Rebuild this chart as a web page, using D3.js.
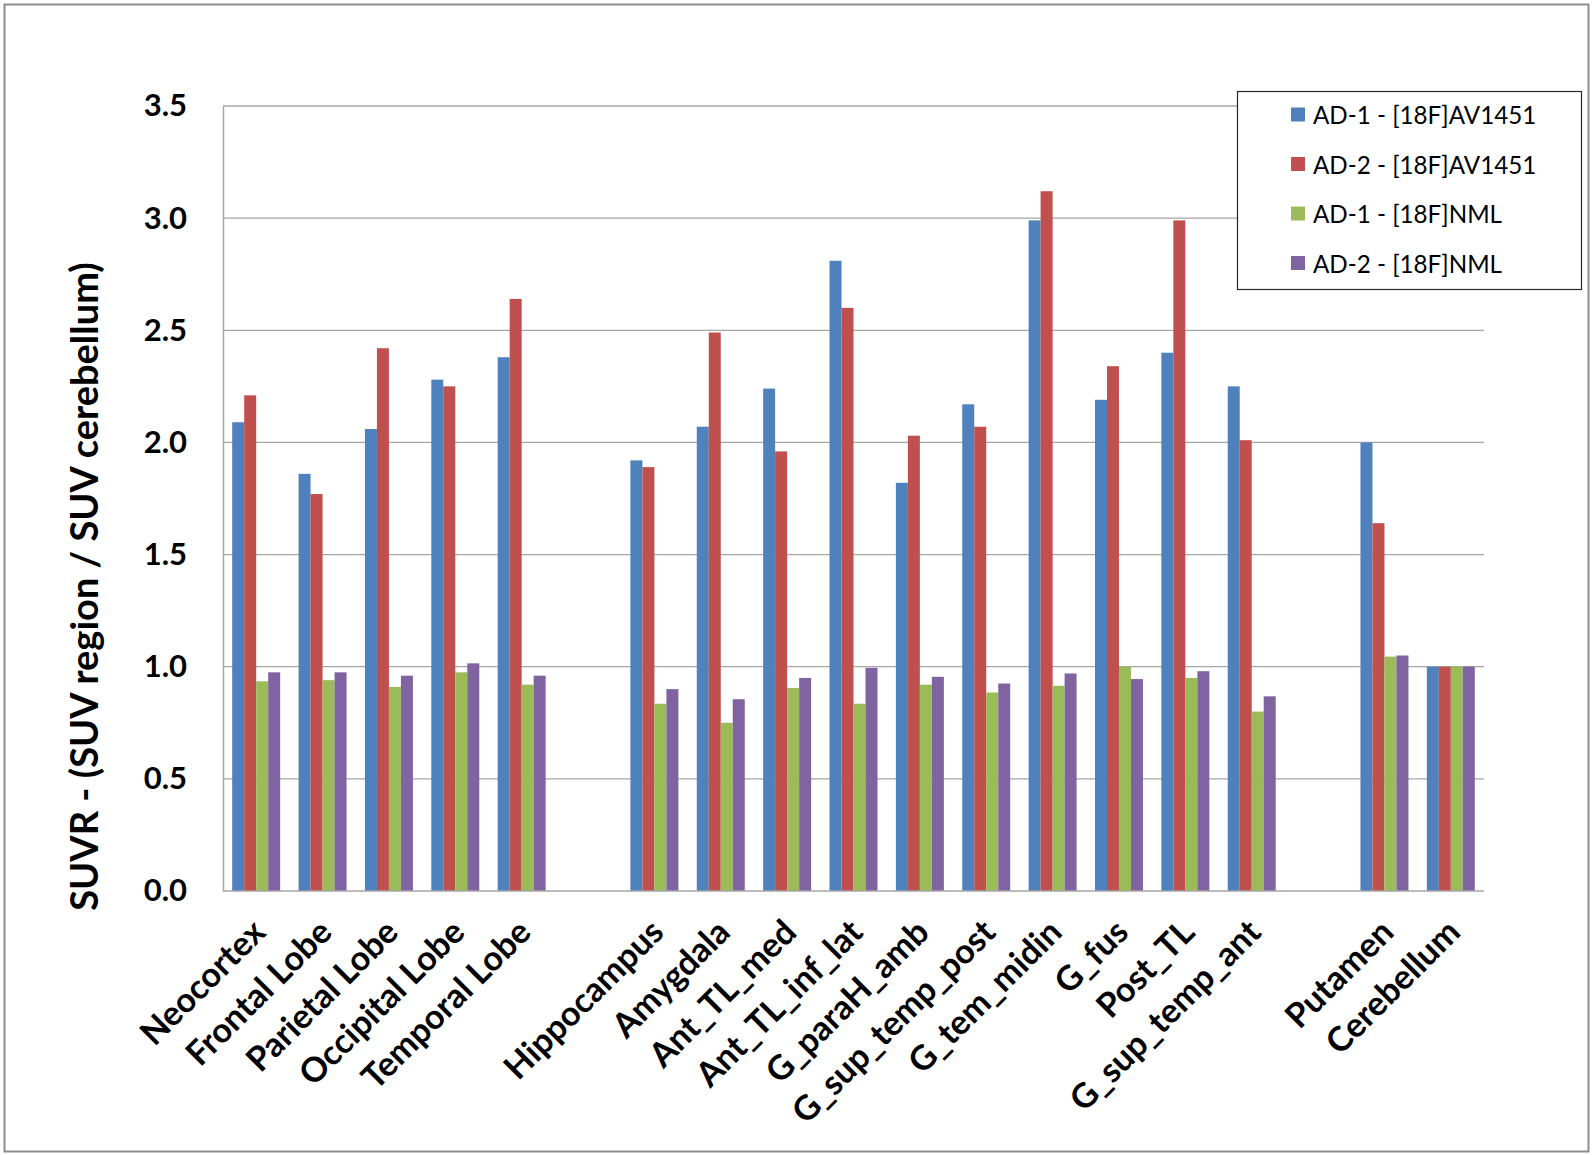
<!DOCTYPE html>
<html>
<head>
<meta charset="utf-8">
<script src="https://cdn.jsdelivr.net/npm/d3@7"></script>
<style>
  html, body { margin: 0; padding: 0; background: #fff; }
  svg { display: block; }
</style>
</head>
<body>
<svg id="chart" width="1592" height="1155"></svg>
<script>
// ---- data ----
const categories = ["Neocortex", "Frontal Lobe", "Parietal Lobe", "Occipital Lobe", "Temporal Lobe", "",
  "Hippocampus", "Amygdala", "Ant_TL_med", "Ant_TL_inf_lat", "G_paraH_amb", "G_sup_temp_post",
  "G_tem_midin", "G_fus", "Post_TL", "G_sup_temp_ant", "", "Putamen", "Cerebellum"];
const seriesNames = ["AD-1 - [18F]AV1451", "AD-2 - [18F]AV1451", "AD-1 - [18F]NML", "AD-2 - [18F]NML"];
const ad1AV = [2.09, 1.86, 2.06, 2.28, 2.38, null, 1.92, 2.07, 2.24, 2.81, 1.82, 2.17, 2.99, 2.19, 2.40, 2.25, null, 2.00, 1.00];
const ad2AV = [2.21, 1.77, 2.42, 2.25, 2.64, null, 1.89, 2.49, 1.96, 2.60, 2.03, 2.07, 3.12, 2.34, 2.99, 2.01, null, 1.64, 1.00];
const ad1NML = [0.935, 0.94, 0.91, 0.975, 0.92, null, 0.835, 0.75, 0.905, 0.835, 0.92, 0.885, 0.915, 1.00, 0.95, 0.80, null, 1.045, 1.00];
const ad2NML = [0.975, 0.975, 0.96, 1.015, 0.96, null, 0.90, 0.855, 0.95, 0.995, 0.955, 0.925, 0.97, 0.945, 0.98, 0.868, null, 1.05, 1.00];
const yTicks = [0, 0.5, 1.0, 1.5, 2.0, 2.5, 3.0, 3.5];
const yTitle = "SUVR - (SUV region / SUV cerebellum)";

const seriesValues = [ad1AV, ad2AV, ad1NML, ad2NML];
const colors = ["#4F81BD", "#C0504D", "#9BBB59", "#8064A2"];

// ---- layout ----
const svg = d3.select("#chart");
const plot = { left: 223, right: 1484, top: 106, bottom: 891 };
const FONT = "Lato, 'Open Sans', sans-serif";

// outer frame
svg.append("rect").attr("x", 4.5).attr("y", 4.5).attr("width", 1584).attr("height", 1147)
  .attr("fill", "#fff").attr("stroke", "#8c8c8c").attr("stroke-width", 2);

const x = d3.scaleBand().domain(d3.range(categories.length))
  .range([plot.left, plot.right]).paddingInner(0.277).paddingOuter(0.1385);
const xs = d3.scaleBand().domain(d3.range(seriesNames.length)).range([0, x.bandwidth()]);
const y = d3.scaleLinear().domain([0, 3.5]).range([plot.bottom, plot.top]);

// gridlines
svg.append("g").selectAll("line").data(yTicks.filter(t => t > 0)).join("line")
  .attr("x1", plot.left).attr("x2", plot.right)
  .attr("y1", d => y(d)).attr("y2", d => y(d))
  .attr("stroke", "#a6a6a6").attr("stroke-width", 1.3);

// bars
const groups = svg.append("g").selectAll("g").data(seriesValues).join("g")
  .attr("fill", (d, i) => colors[i]);
groups.each(function (vals, si) {
  d3.select(this).selectAll("rect")
    .data(vals.map((v, ci) => ({ v, ci })).filter(d => d.v != null))
    .join("rect")
    .attr("x", d => x(d.ci) + xs(si))
    .attr("width", xs.bandwidth())
    .attr("y", d => y(d.v))
    .attr("height", d => y(0) - y(d.v));
});

// y axis
const yAxis = svg.append("g").attr("transform", `translate(${plot.left},0)`)
  .call(d3.axisLeft(y).tickValues(yTicks).tickFormat(d3.format(".1f")).tickSize(0).tickPadding(36));
yAxis.select(".domain").attr("stroke", "#a6a6a6").attr("stroke-width", 1.5);
yAxis.selectAll("text").attr("font-family", FONT).attr("font-weight", "bold")
  .attr("font-size", 31).attr("fill", "#000");

// x axis line
svg.append("line").attr("x1", plot.left).attr("x2", plot.right)
  .attr("y1", plot.bottom).attr("y2", plot.bottom)
  .attr("stroke", "#a6a6a6").attr("stroke-width", 1.5);

// x labels
svg.append("g").selectAll("text").data(categories.map((c, i) => ({ c, i })).filter(d => d.c !== ""))
  .join("text")
  .attr("transform", d => `translate(${x(d.i) + x.bandwidth() / 2 - 8},${plot.bottom + 24}) rotate(-45)`)
  .attr("text-anchor", "end")
  .attr("dominant-baseline", "hanging")
  .attr("font-family", FONT).attr("font-weight", "bold").attr("font-size", 34)
  .text(d => d.c);

// y title
svg.append("text")
  .attr("transform", `translate(83,${(259 + 914) / 2}) rotate(-90)`)
  .attr("text-anchor", "middle").attr("dominant-baseline", "central")
  .attr("font-family", FONT).attr("font-weight", "bold").attr("font-size", 38)
  .text(yTitle);

// legend
const lg = svg.append("g");
lg.append("rect").attr("x", 1237.5).attr("y", 91.5).attr("width", 344).attr("height", 198)
  .attr("fill", "#fff").attr("stroke", "#262626").attr("stroke-width", 1.2);
const items = lg.selectAll("g").data(seriesNames).join("g")
  .attr("transform", (d, i) => `translate(1291,${114.5 + i * 49.5})`);
items.append("rect").attr("x", 0).attr("y", -7).attr("width", 14).attr("height", 14)
  .attr("fill", (d, i) => colors[i]);
items.append("text").attr("x", 22).attr("y", 0).attr("dominant-baseline", "central")
  .attr("font-family", FONT).attr("font-size", 24.2).attr("fill", "#000")
  .text(d => d);
</script>
</body>
</html>
